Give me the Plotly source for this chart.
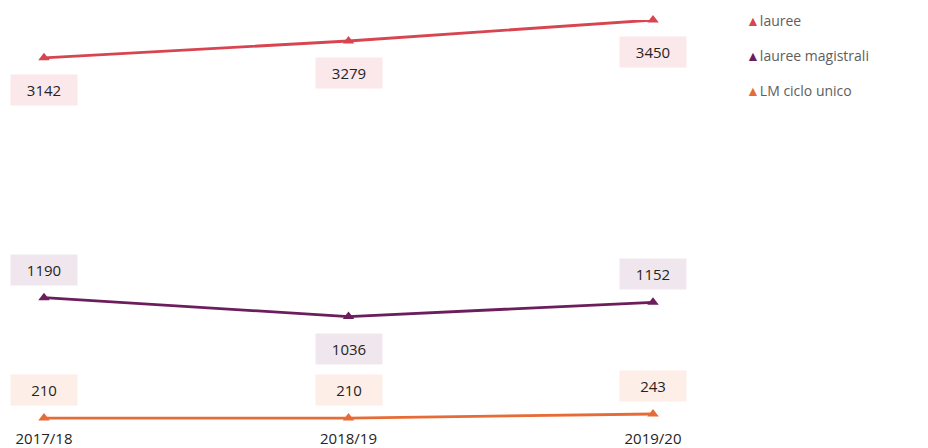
import plotly.graph_objects as go

anni = ["2017/18", "2018/19", "2019/20"]
lauree = [3142, 3279, 3450]
lauree_magistrali = [1190, 1036, 1152]
lm_ciclo_unico = [210, 210, 243]

serie = [
    ("lauree", lauree, "#D64550", "#FBE8EA", ["below", "below", "below"]),
    ("lauree magistrali", lauree_magistrali, "#6B1D5C", "#F0E7EE", ["above", "below", "above"]),
    ("LM ciclo unico", lm_ciclo_unico, "#E66C37", "#FDEEE7", ["above", "above", "above"]),
]

fig = go.Figure()
annotations = []
for nome, valori, colore, sfondo, pos in serie:
    fig.add_trace(go.Scatter(
        x=anni, y=valori, name=nome, mode="lines+markers",
        line=dict(color=colore, width=2.8),
        marker=dict(symbol="triangle-up", size=10, color=colore),
        showlegend=False, cliponaxis=False,
    ))
    # voce di legenda: solo il triangolo colorato prima del nome
    fig.add_trace(go.Scatter(
        x=[None], y=[None], mode="markers", legendgroup=nome,
        name="<span style='color:%s'>▲</span>%s" % (colore, nome),
        marker=dict(size=0, opacity=0, color="rgba(0,0,0,0)"),
    ))
    for xv, yv, p in zip(anni, valori, pos):
        annotations.append(dict(
            x=xv, y=yv, xref="x", yref="y", text=str(yv), showarrow=False,
            yshift=28 if p == "above" else -32,
            bgcolor=sfondo, width=58, height=22, borderpad=4,
            font=dict(family="Open Sans", size=15, color="#252423"),
        ))

# la pagina ha 8px di margine sul body: il grafico parte da (8, 8)
fig.update_layout(
    width=928, height=448,
    margin=dict(l=36, r=283, t=12, b=28, autoexpand=False),
    paper_bgcolor="white", plot_bgcolor="white",
    annotations=annotations,
    showlegend=True,
    legend=dict(x=1.087, y=1.037, xanchor="left", yanchor="top",
                font=dict(family="Open Sans", size=14, color="#605E5C"),
                tracegroupgap=14, bgcolor="rgba(0,0,0,0)"),
)
fig.update_xaxes(type="category", range=[0, 2], showgrid=False, zeroline=False,
                 showline=False, ticks="", automargin=False, ticklabelstandoff=0,
                 tickfont=dict(family="Open Sans", size=15, color="#252423"))
fig.update_yaxes(range=[129, 3450], visible=False)

fig.write_html("out.html")
